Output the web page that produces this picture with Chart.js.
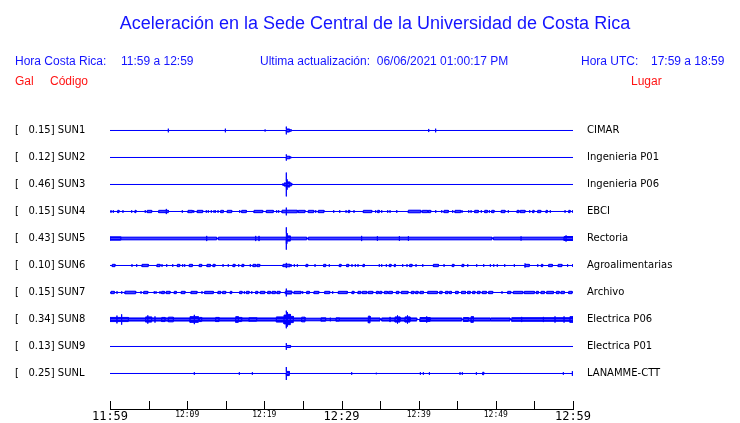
<!DOCTYPE html>
<html>
<head>
<meta charset="utf-8">
<script src="https://cdn.jsdelivr.net/npm/chart.js@4.4.1/dist/chart.umd.min.js"></script>
<style>
  html, body { margin: 0; padding: 0; background: #fff; }
  #wrap { width: 740px; height: 423px; }
</style>
</head>
<body>
<div id="wrap"><canvas id="sismo" width="740" height="423"></canvas></div>
<script>
// --- datos de las estaciones ---
const stationCodes = ['SUN1', 'SUN2', 'SUN3', 'SUN4', 'SUN5', 'SUN6', 'SUN7', 'SUN8', 'SUN9', 'SUNL'];
const peakGal = [0.15, 0.12, 0.46, 0.15, 0.43, 0.10, 0.15, 0.34, 0.13, 0.25];
const places = ['CIMAR', 'Ingenieria P01', 'Ingenieria P06', 'EBCI', 'Rectoria', 'Agroalimentarias',
                'Archivo', 'Electrica P06', 'Electrica P01', 'LANAMME-CTT'];
const timeLabels = ['11:59', '12:09', '12:19', '12:29', '12:39', '12:49', '12:59'];

const sun1Bursts = [[7.56, 7.56, 0.07], [14.95, 14.95, 0.07], [20.1, 20.1, 0.04], [22.85, 22.85, 0.15],
  [22.85, 23.25, 0.06], [23.25, 23.5, 0.03], [41.3, 41.3, 0.06], [42.2, 42.2, 0.07]];
const sun2Bursts = [[22.85, 22.85, 0.12], [22.85, 23.3, 0.05], [23.3, 23.5, 0.02]];
const sun3Bursts = [[22.4, 22.4, 0.04], [22.55, 22.85, 0.06], [22.85, 22.85, 0.46], [22.85, 22.95, 0.13],
  [22.95, 22.95, 0.2], [22.95, 23.3, 0.1], [23.3, 23.55, 0.05]];
const sun4Bursts = [[0.13, 0.13, 0.05], [0.43, 0.43, 0.05], [1.0, 1.17, 0.045], [1.68, 1.68, 0.05], [2.81, 2.81, 0.05],
  [3.24, 3.37, 0.045], [4.57, 4.57, 0.05], [4.83, 5.4, 0.045], [6.31, 7.3, 0.045], [7.3, 7.3, 0.1], [7.3, 7.56, 0.045],
  [9.37, 9.37, 0.05], [10.11, 10.67, 0.045], [10.85, 10.85, 0.05], [11.31, 12.01, 0.045], [12.48, 12.48, 0.05],
  [12.74, 12.74, 0.05], [13.13, 13.13, 0.05], [13.48, 13.48, 0.05], [13.65, 13.65, 0.05], [14.0, 14.0, 0.05],
  [14.35, 14.69, 0.045], [15.2, 15.77, 0.045], [16.81, 16.81, 0.05], [17.07, 17.67, 0.045], [18.66, 19.79, 0.045],
  [20.26, 21.16, 0.045], [21.6, 21.6, 0.05], [21.86, 21.86, 0.05], [22.29, 22.85, 0.05], [22.85, 22.85, 0.15],
  [22.85, 24.27, 0.05], [24.4, 25.27, 0.045], [25.7, 26.4, 0.045], [26.66, 26.66, 0.05], [27.0, 27.73, 0.045],
  [28.99, 28.99, 0.05], [29.77, 29.77, 0.05], [30.59, 30.59, 0.05], [30.88, 31.06, 0.045], [31.62, 31.62, 0.05],
  [32.83, 33.92, 0.045], [34.43, 34.43, 0.05], [34.69, 34.9, 0.045], [35.21, 35.21, 0.05], [35.99, 35.99, 0.05],
  [36.29, 36.29, 0.05], [37.16, 37.16, 0.05], [38.66, 40.27, 0.05], [40.47, 41.17, 0.045], [41.25, 41.56, 0.045],
  [42.21, 42.21, 0.05], [42.99, 42.99, 0.05], [43.29, 43.84, 0.045], [44.41, 44.41, 0.05], [44.71, 45.45, 0.045],
  [45.62, 45.62, 0.05], [46.49, 46.49, 0.05], [46.79, 46.79, 0.05], [47.26, 47.73, 0.045], [48.12, 48.12, 0.05],
  [48.56, 48.9, 0.045], [49.16, 49.16, 0.05], [49.47, 49.77, 0.045], [50.71, 51.19, 0.045], [51.62, 51.62, 0.05],
  [52.75, 53.0, 0.045], [53.17, 53.78, 0.045], [54.39, 54.39, 0.05], [54.78, 54.95, 0.045], [55.43, 55.82, 0.045],
  [56.5, 56.67, 0.045], [57.06, 57.06, 0.05], [58.97, 58.97, 0.05], [59.45, 59.62, 0.045], [59.97, 59.97, 0.05]];
const sun5Bursts = [[0, 1.4, 0.065], [1.4, 12.53, 0.052], [12.53, 12.53, 0.1], [12.53, 13.82, 0.052], [14.04, 18.88, 0.052],
  [18.88, 18.88, 0.1], [18.88, 19.31, 0.052], [19.31, 19.31, 0.1], [19.31, 22.85, 0.052], [22.85, 22.85, 0.43],
  [22.85, 22.95, 0.2], [22.95, 23.37, 0.1], [23.37, 25.49, 0.052], [25.7, 32.61, 0.052], [32.61, 32.61, 0.1],
  [32.61, 34.65, 0.052], [34.65, 34.65, 0.09], [34.65, 37.5, 0.052], [37.5, 37.5, 0.09], [37.5, 38.67, 0.052],
  [38.67, 38.67, 0.09], [38.67, 49.5, 0.052], [49.7, 53.27, 0.052], [53.27, 53.27, 0.08], [53.27, 58.84, 0.052],
  [58.84, 59.1, 0.077], [59.1, 59.1, 0.12], [59.1, 60, 0.077]];
const sun6Bursts = [[0.3, 0.65, 0.045], [2.85, 2.85, 0.05], [3.46, 3.46, 0.05], [4.15, 4.96, 0.045], [6.09, 6.48, 0.045],
  [6.74, 6.74, 0.05], [7.35, 7.35, 0.05], [8.13, 8.13, 0.05], [8.73, 9.03, 0.045], [9.42, 9.42, 0.05], [9.68, 9.68, 0.05],
  [10.28, 10.67, 0.045], [11.57, 11.88, 0.045], [12.57, 13.0, 0.045], [13.35, 13.61, 0.045], [14.65, 14.65, 0.05],
  [15.33, 15.33, 0.05], [15.94, 16.2, 0.045], [16.68, 16.68, 0.05], [17.1, 17.33, 0.045], [18.18, 18.18, 0.05],
  [18.53, 18.88, 0.045], [19.05, 19.4, 0.045], [22.42, 22.85, 0.045], [22.85, 22.85, 0.1], [22.85, 23.33, 0.05],
  [23.46, 23.46, 0.05], [23.89, 23.89, 0.05], [24.28, 24.28, 0.05], [25.4, 25.62, 0.045], [26.57, 26.57, 0.05],
  [27.69, 27.95, 0.045], [28.42, 28.42, 0.05], [29.72, 29.94, 0.045], [30.67, 30.93, 0.045], [31.36, 31.36, 0.05],
  [31.79, 31.79, 0.05], [32.14, 32.14, 0.05], [32.79, 32.96, 0.045], [34.9, 34.9, 0.05], [35.21, 35.21, 0.05],
  [35.81, 35.81, 0.05], [36.2, 36.42, 0.045], [36.85, 36.98, 0.045], [37.93, 37.93, 0.05], [38.49, 38.49, 0.05],
  [38.84, 39.14, 0.045], [39.66, 39.66, 0.05], [40.53, 40.53, 0.05], [41.91, 42.56, 0.045], [43.29, 43.29, 0.05],
  [44.36, 44.57, 0.045], [45.62, 45.84, 0.045], [46.36, 46.36, 0.05], [47.52, 47.52, 0.05], [48.43, 48.43, 0.05],
  [49.29, 49.29, 0.05], [49.73, 49.73, 0.05], [50.19, 50.19, 0.05], [51.15, 51.15, 0.05], [52.4, 52.4, 0.05],
  [53.78, 53.78, 0.08], [53.78, 54.34, 0.045], [55.43, 55.43, 0.05], [55.9, 56.07, 0.045], [56.85, 57.32, 0.045],
  [58.08, 58.56, 0.045], [59.3, 59.3, 0.05], [59.95, 59.95, 0.05]];
const sun7Bursts = [[0.13, 0.56, 0.045], [0.91, 0.91, 0.05], [1.52, 1.52, 0.05], [1.94, 3.33, 0.05], [4.02, 4.02, 0.05],
  [4.37, 4.89, 0.045], [5.74, 5.74, 0.05], [5.96, 5.96, 0.05], [6.48, 6.48, 0.05], [6.7, 7.04, 0.045], [7.29, 7.78, 0.045],
  [8.33, 8.59, 0.045], [9.24, 9.72, 0.045], [10.5, 11.27, 0.045], [11.92, 11.92, 0.05], [12.27, 13.39, 0.045],
  [13.99, 14.34, 0.045], [14.6, 14.99, 0.045], [15.59, 15.77, 0.045], [16.81, 17.11, 0.045], [17.41, 17.41, 0.05],
  [17.67, 18.02, 0.045], [18.37, 18.37, 0.05], [18.88, 19.14, 0.045], [19.48, 20.05, 0.045], [20.44, 20.78, 0.045],
  [21.0, 21.43, 0.045], [21.64, 22.03, 0.045], [22.72, 22.85, 0.05], [22.85, 22.85, 0.15], [22.85, 23.55, 0.06],
  [23.85, 24.75, 0.045], [24.97, 24.97, 0.05], [25.49, 25.83, 0.045], [26.44, 27.05, 0.045], [27.82, 28.47, 0.045],
  [28.86, 28.86, 0.05], [29.59, 30.75, 0.045], [31.36, 31.62, 0.045], [32.14, 32.49, 0.045], [32.7, 33.27, 0.045],
  [33.48, 34.05, 0.045], [34.52, 34.78, 0.045], [34.95, 35.21, 0.045], [35.56, 35.95, 0.045], [36.11, 36.59, 0.045],
  [37.11, 37.42, 0.045], [37.76, 38.62, 0.045], [39.05, 39.4, 0.045], [39.62, 39.92, 0.045], [40.18, 40.61, 0.045],
  [41.18, 42.43, 0.045], [42.73, 43.03, 0.045], [43.47, 43.81, 0.045], [44.0, 44.25, 0.045], [44.77, 45.12, 0.045],
  [45.55, 46.07, 0.045], [46.33, 46.68, 0.045], [47.0, 47.3, 0.045], [47.61, 47.95, 0.045], [48.25, 48.77, 0.045],
  [49.07, 49.59, 0.045], [50.8, 50.8, 0.05], [51.54, 51.93, 0.045], [52.27, 53.48, 0.045], [53.69, 54.99, 0.045],
  [55.25, 55.51, 0.045], [55.86, 56.29, 0.045], [56.6, 57.46, 0.045], [57.85, 58.2, 0.045], [58.45, 58.88, 0.045],
  [59.45, 59.88, 0.045]];
const sun8Bursts = [[0, 0.9, 0.08], [0.9, 0.9, 0.15], [0.9, 1.51, 0.08], [1.51, 1.51, 0.2], [1.51, 2.38, 0.08],
  [2.38, 4.62, 0.06], [4.62, 4.9, 0.1], [4.9, 4.9, 0.16], [4.9, 5.4, 0.1], [5.4, 5.83, 0.06], [5.83, 5.83, 0.12],
  [5.83, 6.7, 0.06], [6.7, 7.13, 0.08], [7.13, 7.56, 0.06], [7.56, 8.21, 0.09], [8.21, 10.37, 0.06], [10.37, 10.93, 0.11],
  [10.93, 10.93, 0.18], [10.93, 11.45, 0.11], [11.45, 11.58, 0.06], [11.58, 11.88, 0.08], [11.88, 13.69, 0.06],
  [13.69, 14.13, 0.08], [14.13, 16.29, 0.06], [16.29, 16.63, 0.11], [16.63, 17.07, 0.08], [17.07, 18.01, 0.06],
  [18.01, 19.01, 0.07], [19.01, 21.56, 0.06], [21.56, 22.55, 0.1], [22.55, 22.85, 0.17], [22.85, 22.85, 0.34],
  [22.85, 23.0, 0.27], [23.0, 23.37, 0.2], [23.37, 23.76, 0.12], [23.76, 24.84, 0.06], [24.84, 25.27, 0.09],
  [25.27, 27.35, 0.05], [27.35, 27.95, 0.065], [27.95, 28.55, 0.045], [28.55, 28.55, 0.07], [28.55, 29.29, 0.045],
  [29.29, 29.72, 0.065], [29.72, 33.48, 0.06], [33.48, 33.7, 0.13], [33.7, 34.99, 0.06], [35.21, 36.29, 0.06],
  [36.29, 36.29, 0.1], [36.29, 36.94, 0.06], [36.94, 37.58, 0.1], [37.26, 37.26, 0.16], [37.58, 38.23, 0.06],
  [38.23, 38.88, 0.1], [38.55, 38.55, 0.16], [38.88, 39.75, 0.06], [40.17, 41.47, 0.075], [41.04, 41.04, 0.12],
  [41.47, 45.58, 0.06], [45.79, 46.44, 0.075], [46.44, 46.79, 0.06], [46.79, 47.09, 0.11], [47.09, 49.25, 0.06],
  [49.34, 51.84, 0.06], [52.06, 53.35, 0.07], [53.35, 53.35, 0.1], [53.35, 56.16, 0.07], [56.16, 56.16, 0.1],
  [56.16, 57.67, 0.07], [57.67, 57.67, 0.12], [57.67, 58.84, 0.07], [58.84, 58.84, 0.12], [58.84, 59.6, 0.07],
  [59.6, 60, 0.11]];
const sun9Bursts = [[22.85, 22.85, 0.13], [22.85, 23.4, 0.04]];
const sunlBursts = [[10.93, 10.93, 0.05], [16.76, 16.76, 0.05], [18.45, 18.45, 0.05], [22.85, 22.85, 0.25],
  [22.85, 23.24, 0.08], [31.32, 31.32, 0.05], [34.51, 34.51, 0.03], [40.22, 40.22, 0.05], [40.61, 40.61, 0.05],
  [41.39, 41.39, 0.05], [45.36, 45.36, 0.05], [45.66, 45.66, 0.05], [47.48, 47.48, 0.05], [48.3, 48.43, 0.05],
  [53.18, 53.18, 0.02], [58.75, 58.75, 0.05], [59.92, 59.92, 0.09]];

const allBursts = [sun1Bursts, sun2Bursts, sun3Bursts, sun4Bursts, sun5Bursts,
                   sun6Bursts, sun7Bursts, sun8Bursts, sun9Bursts, sunlBursts];

const GAIN = 0.96;          // unidades de traza por Gal
const BLUE = '#0000ff';
const TEXT_BLUE = '#1414ff';
const TEXT_RED = '#ff1414';

// --- armar las trazas (envolvente superior e inferior) ---
const datasets = [];
allBursts.forEach((bursts, i) => {
    const base = stationCodes.length - i;
    [1, -1].forEach(sign => {
        const pts = [{ x: 0, y: base }];
        bursts.forEach(([t0, t1, a]) => {
            const y = base + sign * a * GAIN;
            pts.push({ x: t0, y: base }, { x: t0, y: y }, { x: t1, y: y }, { x: t1, y: base });
        });
        pts.push({ x: 60, y: base });
        datasets.push({
            label: stationCodes[i] + (sign > 0 ? '+' : '-'),
            data: pts,
            borderColor: BLUE,
            backgroundColor: BLUE,
            borderWidth: 1,
            pointRadius: 0,
            tension: 0,
            fill: { value: base }
        });
    });
});

function stationIndex(value) {
    return stationCodes.length - Math.round(value);
}

function fixedTicks(scale) {
    scale.ticks = stationCodes.map((_, i) => ({ value: stationCodes.length - i }));
}

// encabezado dibujado en el canvas
const headerPlugin = {
    id: 'header',
    afterDraw(chart) {
        const c = chart.ctx;
        c.save();
        c.textBaseline = 'alphabetic';
        c.fillStyle = TEXT_BLUE;
        c.font = '18px "Liberation Sans"';
        c.textAlign = 'center';
        c.fillText('Aceleración en la Sede Central de la Universidad de Costa Rica', 375, 29);
        c.textAlign = 'left';
        c.font = '12px "Liberation Sans"';
        c.fillText('Hora Costa Rica:', 15, 65);
        c.fillText('11:59 a 12:59', 121, 65);
        c.fillText('Ultima actualización:  06/06/2021 01:00:17 PM', 260, 65);
        c.fillText('Hora UTC:', 581, 65);
        c.fillText('17:59 a 18:59', 651, 65);
        c.fillStyle = TEXT_RED;
        c.fillText('Gal', 15, 85);
        c.fillText('Código', 50, 85);
        c.fillText('Lugar', 631, 85);
        c.restore();
    }
};

// marcas del eje de tiempo hacia arriba
const upTicksPlugin = {
    id: 'upTicks',
    afterDraw(chart) {
        const xs = chart.scales.x;
        const c = chart.ctx;
        c.save();
        c.strokeStyle = '#000';
        c.lineWidth = 1;
        c.beginPath();
        xs.ticks.forEach(t => {
            const px = Math.round(xs.getPixelForValue(t.value)) + 0.5;
            c.moveTo(px, xs.top);
            c.lineTo(px, xs.top - 8);
        });
        c.stroke();
        c.restore();
    }
};

new Chart(document.getElementById('sismo'), {
    type: 'line',
    data: { datasets: datasets },
    plugins: [headerPlugin, upTicksPlugin],
    options: {
        responsive: false,
        animation: false,
        devicePixelRatio: 1,
        layout: { padding: { left: 15, top: 103.5, right: 0, bottom: 0 } },
        plugins: { legend: { display: false }, tooltip: { enabled: false } },
        scales: {
            x: {
                type: 'linear', min: 0, max: 60,
                grid: { display: false, drawTicks: false },
                border: { display: true, color: '#000', width: 1 },
                afterFit: s => { s.height = 14; },
                ticks: {
                    stepSize: 5, autoSkip: false, maxRotation: 0, padding: 1, color: '#000',
                    font: ctx => {
                        const v = ctx.tick ? ctx.tick.value : 0;
                        return (v % 30 === 0)
                            ? { family: 'DejaVu Sans Mono', size: 12 }
                            : { family: 'DejaVu Sans Mono', size: 8 };
                    },
                    callback: v => (v % 10 === 0 ? timeLabels[v / 10] : '')
                }
            },
            y: {
                type: 'linear', position: 'left', min: -0.315, max: 11,
                grid: { display: false }, border: { display: false },
                afterBuildTicks: fixedTicks,
                afterFit: s => { s.width = 95; },
                ticks: {
                    crossAlign: 'far', padding: 0, color: '#000',
                    font: { family: 'DejaVu Sans', size: 10 },
                    callback: v => {
                        const i = stationIndex(v);
                        return '[   ' + peakGal[i].toFixed(2) + '] ' + stationCodes[i];
                    }
                }
            },
            lugar: {
                type: 'linear', position: 'right', display: true, min: -0.315, max: 11,
                grid: { display: true, drawOnChartArea: false, drawTicks: true, tickLength: 14,
                        tickColor: 'rgba(0,0,0,0)', color: 'rgba(0,0,0,0)' },
                border: { display: false },
                afterBuildTicks: fixedTicks,
                afterFit: s => { s.width = 167; },
                ticks: {
                    padding: 0, color: '#000',
                    font: { family: 'DejaVu Sans', size: 10 },
                    callback: v => places[stationIndex(v)]
                }
            }
        }
    }
});
</script>
</body>
</html>
